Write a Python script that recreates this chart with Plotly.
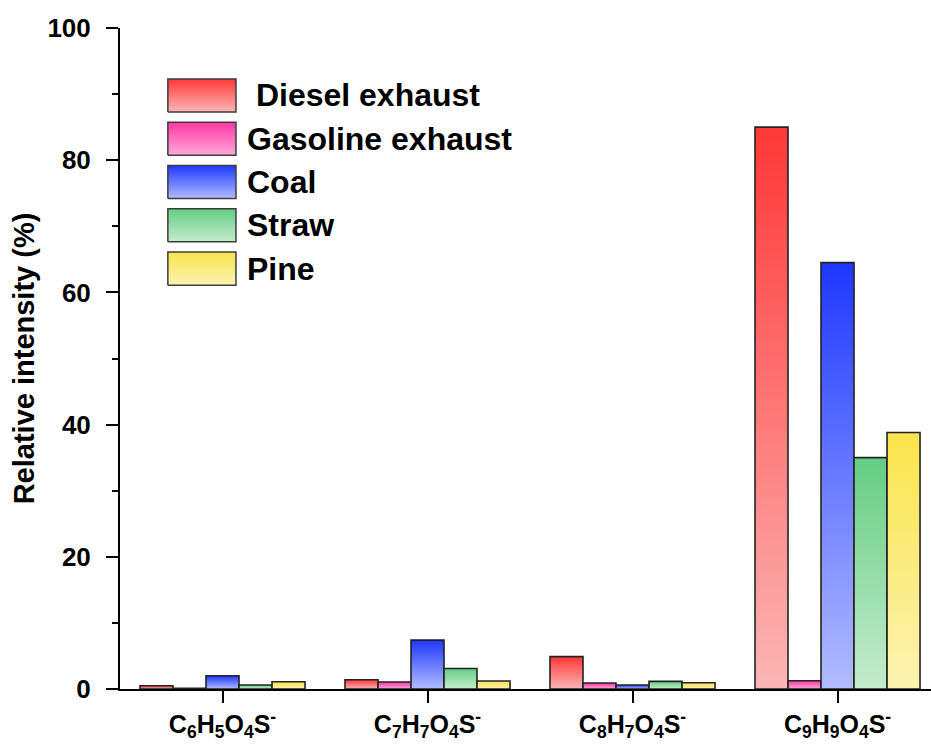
import plotly.graph_objects as go

# ---- data ----
categories = [
    "C<sub>6</sub>H<sub>5</sub>O<sub>4</sub>S<sup>-</sup>",
    "C<sub>7</sub>H<sub>7</sub>O<sub>4</sub>S<sup>-</sup>",
    "C<sub>8</sub>H<sub>7</sub>O<sub>4</sub>S<sup>-</sup>",
    "C<sub>9</sub>H<sub>9</sub>O<sub>4</sub>S<sup>-</sup>",
]
series_names = ["\u00a0Diesel exhaust", "Gasoline exhaust", "Coal", "Straw", "Pine"]
diesel = [0.5, 1.4, 4.9, 85.0]
gasoline = [0.1, 1.05, 0.9, 1.25]
coal = [2.0, 7.4, 0.6, 64.5]
straw = [0.6, 3.1, 1.15, 35.0]
pine = [1.1, 1.2, 0.95, 38.8]
series_values = [diesel, gasoline, coal, straw, pine]

top_colors = ["rgb(255,55,55)", "rgb(255,55,165)", "rgb(30,55,255)", "rgb(100,205,130)", "rgb(250,228,75)"]
bottom_colors = ["rgb(252,182,182)", "rgb(255,170,215)", "rgb(178,188,255)", "rgb(196,236,206)", "rgb(252,243,178)"]
y_ticks = [0, 20, 40, 60, 80, 100]

# ---- layout constants ----
bar_w = 0.161
n = len(series_values)
edge = "rgb(35,35,35)"

fig = go.Figure()

for si, vals in enumerate(series_values):
    for ci, v in enumerate(vals):
        xc = ci + (si - (n - 1) / 2) * bar_w
        x0, x1 = xc - bar_w / 2, xc + bar_w / 2
        fig.add_trace(go.Scatter(
            x=[x0, x0, x1, x1, x0], y=[0, v, v, 0, 0],
            mode="lines", fill="toself",
            fillgradient=dict(type="vertical",
                              colorscale=[[0, bottom_colors[si]], [1, top_colors[si]]]),
            line=dict(color=edge, width=1.6),
            name=series_names[si].strip(), legendgroup=str(si),
            showlegend=False, hoverinfo="skip",
        ))

# ---- custom legend (large gradient swatches) ----
bx0, bx1 = 0.059, 0.143
btop, bh, step = 0.923, 0.050, 0.0655
for si, name in enumerate(series_names):
    t = btop - si * step
    b = t - bh
    fig.add_trace(go.Scatter(
        x=[bx0, bx0, bx1, bx1, bx0], y=[b, t, t, b, b],
        xaxis="x2", yaxis="y2", mode="lines", fill="toself",
        fillgradient=dict(type="vertical",
                          colorscale=[[0, bottom_colors[si]], [1, top_colors[si]]]),
        line=dict(color="rgb(60,60,60)", width=1.5),
        showlegend=False, hoverinfo="skip",
    ))
    fig.add_annotation(
        x=0.154, y=(t + b) / 2, xref="paper", yref="paper",
        text=name, showarrow=False, xanchor="left", yanchor="middle",
        font=dict(family="Liberation Sans, Arial, sans-serif", size=32, color="black", weight="bold"),
    )

fig.update_layout(
    width=931, height=747,
    margin=dict(l=120, r=0, t=28, b=58, autoexpand=False),
    plot_bgcolor="white", paper_bgcolor="white",
    font=dict(family="Liberation Sans, Arial, sans-serif", color="black"),
    showlegend=False,
    xaxis=dict(
        range=[-0.5, 3.456], tickmode="array", tickvals=list(range(len(categories))),
        ticktext=categories, showline=True, linecolor="black", linewidth=2,
        ticks="outside", ticklen=12, tickwidth=2, tickcolor="black",
        showgrid=False, zeroline=False, ticklabelstandoff=0, automargin=False,
        tickfont=dict(size=25, weight="bold", color="black"),
    ),
    yaxis=dict(
        range=[0, 100], tickmode="array", tickvals=y_ticks,
        showline=True, linecolor="black", linewidth=2,
        ticks="outside", ticklen=12, tickwidth=2, tickcolor="black",
        minor=dict(dtick=10, ticks="outside", ticklen=6, tickwidth=2, tickcolor="black", showgrid=False),
        showgrid=False, zeroline=False, ticklabelstandoff=10, automargin=False,
        tickfont=dict(size=26, weight="bold", color="black"),
        title=dict(text="Relative intensity (%)", standoff=4,
                   font=dict(size=29, weight="bold", color="black")),
    ),
    xaxis2=dict(overlaying="x", range=[0, 1], visible=False, fixedrange=True),
    yaxis2=dict(overlaying="y", range=[0, 1], visible=False, fixedrange=True),
)

fig.write_html("out.html", config={"displayModeBar": False},
               post_script="document.body.style.margin='0';")
